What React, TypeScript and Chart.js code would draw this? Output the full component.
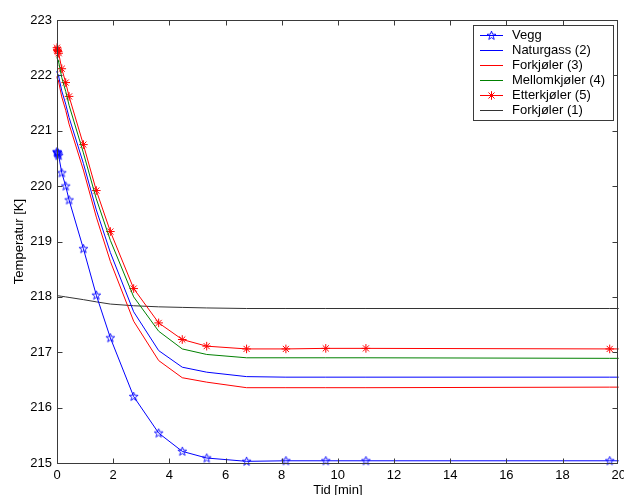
import React, { useEffect, useRef } from 'react';
import { Chart, registerables } from 'chart.js';

Chart.register(...registerables);

// Time points [min]
const time = [0, 0.01, 0.02, 0.04, 0.06, 0.17, 0.31, 0.43, 0.94, 1.4, 1.9, 2.73, 3.62, 4.46, 5.33, 6.75, 8.15, 9.57, 11.0, 19.68, 20];

// Temperatures [K]
const vegg = [220.62, 220.61, 220.6, 220.58, 220.55, 220.24, 220.0, 219.75, 218.87, 218.03, 217.26, 216.2, 215.54, 215.21, 215.09, 215.03, 215.04, 215.04, 215.04, 215.04, 215.04];
const naturgass = [222.08, 222.06, 222.04, 222.01, 221.98, 221.72, 221.48, 221.24, 220.41, 219.57, 218.8, 217.73, 217.03, 216.73, 216.64, 216.56, 216.55, 216.55, 216.55, 216.55, 216.55];
const forkjoler3 = [221.98, 221.96, 221.94, 221.91, 221.88, 221.61, 221.37, 221.12, 220.29, 219.44, 218.64, 217.56, 216.85, 216.54, 216.46, 216.36, 216.36, 216.36, 216.36, 216.37, 216.37];
const mellomkjoler = [222.34, 222.32, 222.3, 222.27, 222.24, 221.96, 221.71, 221.46, 220.6, 219.77, 219.02, 218.0, 217.38, 217.06, 216.96, 216.9, 216.9, 216.9, 216.9, 216.89, 216.89];
const etterkjoler = [222.5, 222.47, 222.45, 222.43, 222.4, 222.12, 221.87, 221.62, 220.75, 219.92, 219.18, 218.15, 217.53, 217.23, 217.11, 217.06, 217.06, 217.07, 217.07, 217.06, 217.06];
const forkjoler1 = [218.02, 218.02, 218.02, 218.02, 218.02, 218.01, 218.0, 217.99, 217.95, 217.91, 217.87, 217.84, 217.82, 217.81, 217.8, 217.79, 217.79, 217.79, 217.79, 217.79, 217.79];

// Markers shown at every solver step except the final end point
const markerShown = [1, 1, 1, 1, 1, 1, 1, 1, 1, 1, 1, 1, 1, 1, 1, 1, 1, 1, 1, 1, 0];

const xTicks = [0, 2, 4, 6, 8, 10, 12, 14, 16, 18, 20];
const yTicks = [215, 216, 217, 218, 219, 220, 221, 222, 223];

const seriesLabels = ['Vegg', 'Naturgass (2)', 'Forkjøler (3)', 'Mellomkjøler (4)', 'Etterkjøler (5)', 'Forkjøler (1)'];
const seriesColors = ['#0000ff', '#0000ff', '#ff0000', '#008000', '#ff0000', '#333333'];
const seriesMarkers = ['pentagram', 'none', 'none', 'none', 'asterisk', 'none'];
const seriesValues = [vegg, naturgass, forkjoler3, mellomkjoler, etterkjoler, forkjoler1];

const xTitle = 'Tid [min]';
const yTitle = 'Temperatur [K]';

const FONT = '"Liberation Sans", Arial, sans-serif';

function makePentagram(color: string): HTMLCanvasElement {
  const c = document.createElement('canvas');
  c.width = 11;
  c.height = 11;
  const g = c.getContext('2d')!;
  const cx = 5.5, cy = 5.7, ro = 4.6, ri = 1.9;
  g.beginPath();
  for (let i = 0; i < 10; i++) {
    const r = i % 2 === 0 ? ro : ri;
    const a = -Math.PI / 2 + (i * Math.PI) / 5;
    const px = cx + r * Math.cos(a);
    const py = cy + r * Math.sin(a);
    if (i === 0) g.moveTo(px, py);
    else g.lineTo(px, py);
  }
  g.closePath();
  g.strokeStyle = color;
  g.lineWidth = 0.9;
  g.stroke();
  return c;
}

function drawAsterisk(ctx: CanvasRenderingContext2D, x: number, y: number, r: number, color: string) {
  ctx.save();
  ctx.strokeStyle = color;
  ctx.lineWidth = 1;
  ctx.beginPath();
  ctx.moveTo(x - r, y);
  ctx.lineTo(x + r, y);
  ctx.moveTo(x, y - r);
  ctx.lineTo(x, y + r);
  const d = r * Math.SQRT1_2;
  ctx.moveTo(x - d, y - d);
  ctx.lineTo(x + d, y + d);
  ctx.moveTo(x - d, y + d);
  ctx.lineTo(x + d, y - d);
  ctx.stroke();
  ctx.restore();
}

export default function App() {
  const canvasRef = useRef<HTMLCanvasElement | null>(null);

  useEffect(() => {
    const canvas = canvasRef.current;
    if (!canvas) return;
    const pent = makePentagram('#0000ff');

    const datasets = seriesLabels.map((label, i) => {
      const marker = seriesMarkers[i];
      return {
        label,
        data: time.map((t, k) => ({ x: t, y: seriesValues[i][k] })),
        borderColor: seriesColors[i],
        backgroundColor: seriesColors[i],
        borderWidth: 1,
        tension: 0,
        clip: false as any,
        pointStyle: marker === 'pentagram' ? (pent as any) : marker === 'asterisk' ? 'star' : 'circle',
        pointRadius: marker === 'none' ? 0 : markerShown.map((m) => (m ? 4.3 : 0)),
        pointBorderWidth: 1,
        pointBorderColor: seriesColors[i],
        pointBackgroundColor: 'rgba(0,0,0,0)',
        pointHoverRadius: 0,
      };
    });

    const framePlugin = {
      id: 'matlabFrame',
      afterDraw(chart: any) {
        const ctx = chart.ctx as CanvasRenderingContext2D;
        const { left, right, top, bottom } = chart.chartArea;
        const xs = chart.scales.x;
        const ys = chart.scales.y;
        ctx.save();

        // axes box and inward ticks
        ctx.strokeStyle = '#3a3a3a';
        ctx.lineWidth = 1;
        const L = Math.floor(left) + 0.5;
        const R = Math.floor(right) - 0.5;
        const T = Math.floor(top) + 0.5;
        const B = Math.floor(bottom) + 0.5;
        ctx.strokeRect(L, T, R - L, B - T);
        ctx.beginPath();
        for (const v of xTicks) {
          const px = Math.round(xs.getPixelForValue(v)) + 0.5;
          if (px <= L + 1 || px >= R - 1) continue;
          ctx.moveTo(px, B);
          ctx.lineTo(px, B - 5);
          ctx.moveTo(px, T);
          ctx.lineTo(px, T + 5);
        }
        for (const v of yTicks) {
          const py = Math.round(ys.getPixelForValue(v)) + 0.5;
          if (py <= T + 1 || py >= B - 1) continue;
          ctx.moveTo(L, py);
          ctx.lineTo(L + 5, py);
          ctx.moveTo(R, py);
          ctx.lineTo(R - 5, py);
        }
        ctx.stroke();

        // axis titles
        ctx.fillStyle = '#000';
        ctx.font = `13px ${FONT}`;
        ctx.textAlign = 'center';
        ctx.textBaseline = 'top';
        ctx.fillText(xTitle, (left + right) / 2, 484);
        ctx.save();
        ctx.translate(19, (top + bottom) / 2);
        ctx.rotate(-Math.PI / 2);
        ctx.textBaseline = 'middle';
        ctx.fillText(yTitle, 0, 0);
        ctx.restore();

        // legend
        const bx = 473.5, by = 25.5, bw = 140, bh = 95;
        ctx.fillStyle = '#ffffff';
        ctx.fillRect(bx, by, bw, bh);
        ctx.strokeStyle = '#3a3a3a';
        ctx.lineWidth = 1;
        ctx.strokeRect(bx, by, bw, bh);
        ctx.font = `13px ${FONT}`;
        ctx.textAlign = 'left';
        ctx.textBaseline = 'middle';
        seriesLabels.forEach((label, i) => {
          const y = 35 + i * 14.9;
          const yl = Math.round(y) + 0.5;
          ctx.strokeStyle = seriesColors[i];
          ctx.beginPath();
          ctx.moveTo(480, yl);
          ctx.lineTo(503, yl);
          ctx.stroke();
          if (seriesMarkers[i] === 'pentagram') {
            ctx.drawImage(pent, 491.5 - pent.width / 2, yl - pent.height / 2);
          } else if (seriesMarkers[i] === 'asterisk') {
            drawAsterisk(ctx, 491.5, yl, 4.3, seriesColors[i]);
          }
          ctx.fillStyle = '#000';
          ctx.fillText(label, 512, y + 0.5);
        });
        ctx.restore();
      },
    };

    const chart = new Chart(canvas, {
      type: 'line',
      data: { datasets: datasets as any },
      options: {
        animation: false,
        responsive: false,
        devicePixelRatio: 1,
        events: [],
        layout: { padding: { top: 20, right: 4, left: 0, bottom: 0 } },
        plugins: {
          legend: { display: false },
          tooltip: { enabled: false },
          title: { display: false },
        },
        scales: {
          x: {
            type: 'linear',
            min: xTicks[0],
            max: xTicks[xTicks.length - 1],
            afterBuildTicks: (s: any) => {
              s.ticks = xTicks.map((v) => ({ value: v }));
            },
            ticks: {
              color: '#000',
              font: { family: FONT, size: 13 },
              padding: 5,
              maxRotation: 0,
              autoSkip: false,
              callback: (v: any) => String(v),
            },
            grid: { display: false, drawTicks: false },
            border: { display: false },
            afterFit: (s: any) => {
              s.height = 32;
              s.paddingLeft = 0;
              s.paddingRight = 0;
            },
          },
          y: {
            type: 'linear',
            min: yTicks[0],
            max: yTicks[yTicks.length - 1],
            afterBuildTicks: (s: any) => {
              s.ticks = yTicks.map((v) => ({ value: v }));
            },
            ticks: {
              color: '#000',
              font: { family: FONT, size: 13 },
              padding: 5,
              autoSkip: false,
              callback: (v: any) => String(v),
            },
            grid: { display: false, drawTicks: false },
            border: { display: false },
            afterFit: (s: any) => {
              s.width = 57;
              s.paddingTop = 0;
              s.paddingBottom = 0;
            },
          },
        },
      },
      plugins: [framePlugin],
    });

    return () => {
      chart.destroy();
    };
  }, []);

  return (
    <div style={{ position: 'fixed', left: 0, top: 0, width: 624, height: 495, background: '#fff' }}>
      <canvas ref={canvasRef} width={624} height={495} style={{ display: 'block', width: 624, height: 495 }} />
    </div>
  );
}
